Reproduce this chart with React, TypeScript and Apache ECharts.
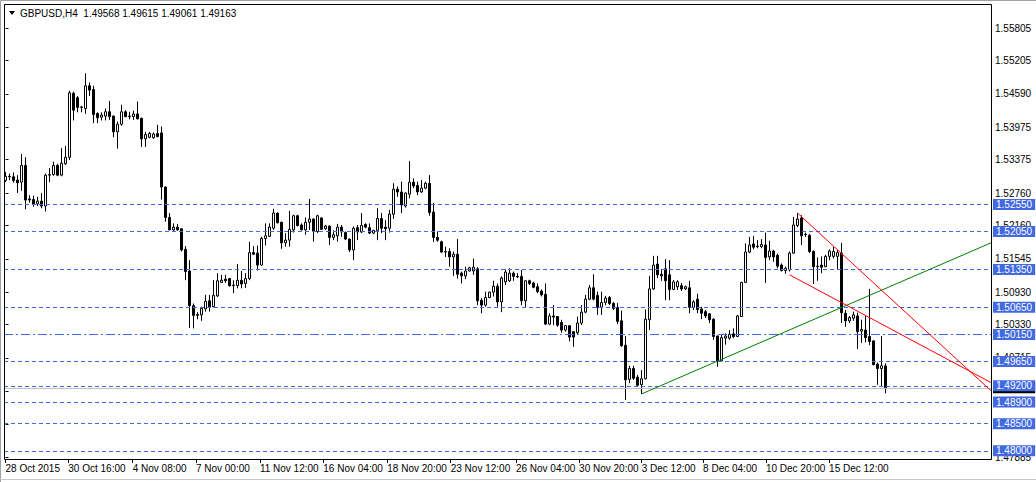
import React, { useEffect, useRef } from "react";
import * as echarts from "echarts";

const symbolName = "GBPUSD,H4";

// H4 bars, oldest first: [open, close, low, high]
const bars: number[][] = [
  [1.5299, 1.5307, 1.5296, 1.5315], [1.5307, 1.5306, 1.5300, 1.5312], [1.5306, 1.5299, 1.5295, 1.5314],
  [1.5300, 1.5295, 1.5276, 1.5309], [1.5296, 1.5327, 1.5280, 1.5348], [1.5327, 1.5263, 1.5246, 1.5342],
  [1.5265, 1.5263, 1.5258, 1.5272], [1.5264, 1.5256, 1.5251, 1.5271], [1.5256, 1.5261, 1.5252, 1.5269],
  [1.5261, 1.5252, 1.5248, 1.5276], [1.5252, 1.5309, 1.5242, 1.5312], [1.5309, 1.5310, 1.5296, 1.5322],
  [1.5310, 1.5327, 1.5308, 1.5334], [1.5327, 1.5309, 1.5307, 1.5330], [1.5309, 1.5331, 1.5307, 1.5359],
  [1.5330, 1.5342, 1.5328, 1.5363], [1.5342, 1.5461, 1.5337, 1.5465], [1.5460, 1.5429, 1.5410, 1.5463],
  [1.5452, 1.5434, 1.5425, 1.5455], [1.5434, 1.5435, 1.5425, 1.5437], [1.5432, 1.5474, 1.5422, 1.5497],
  [1.5474, 1.5466, 1.5455, 1.5480], [1.5467, 1.5421, 1.5405, 1.5474], [1.5423, 1.5415, 1.5405, 1.5425],
  [1.5416, 1.5420, 1.5410, 1.5425], [1.5418, 1.5426, 1.5410, 1.5432], [1.5426, 1.5417, 1.5411, 1.5446],
  [1.5418, 1.5389, 1.5379, 1.5419], [1.5389, 1.5403, 1.5358, 1.5408], [1.5403, 1.5426, 1.5400, 1.5439],
  [1.5426, 1.5417, 1.5416, 1.5429], [1.5417, 1.5418, 1.5412, 1.5426], [1.5417, 1.5422, 1.5411, 1.5428],
  [1.5422, 1.5413, 1.5412, 1.5445], [1.5414, 1.5376, 1.5361, 1.5415], [1.5376, 1.5384, 1.5361, 1.5389],
  [1.5379, 1.5386, 1.5377, 1.5389], [1.5378, 1.5385, 1.5376, 1.5388], [1.5386, 1.5380, 1.5379, 1.5402],
  [1.5387, 1.5287, 1.5264, 1.5399], [1.5287, 1.5231, 1.5223, 1.5288], [1.5231, 1.5208, 1.5207, 1.5239],
  [1.5208, 1.5213, 1.5206, 1.5220], [1.5213, 1.5208, 1.5206, 1.5219], [1.5210, 1.5171, 1.5168, 1.5211],
  [1.5172, 1.5131, 1.5115, 1.5178], [1.5132, 1.5068, 1.5027, 1.5152], [1.5068, 1.5050, 1.5026, 1.5072],
  [1.5050, 1.5052, 1.5043, 1.5056], [1.5051, 1.5063, 1.5040, 1.5066], [1.5062, 1.5076, 1.5057, 1.5088],
  [1.5077, 1.5066, 1.5057, 1.5088], [1.5066, 1.5087, 1.5065, 1.5115], [1.5086, 1.5114, 1.5084, 1.5128],
  [1.5111, 1.5115, 1.5110, 1.5125], [1.5117, 1.5114, 1.5110, 1.5125], [1.5118, 1.5105, 1.5103, 1.5119],
  [1.5105, 1.5106, 1.5091, 1.5115], [1.5105, 1.5115, 1.5100, 1.5145], [1.5115, 1.5108, 1.5100, 1.5132],
  [1.5109, 1.5118, 1.5101, 1.5128], [1.5118, 1.5166, 1.5115, 1.5186], [1.5166, 1.5163, 1.5162, 1.5178],
  [1.5165, 1.5143, 1.5133, 1.5179], [1.5143, 1.5192, 1.5142, 1.5195], [1.5192, 1.5197, 1.5179, 1.5220],
  [1.5196, 1.5213, 1.5195, 1.5220], [1.5211, 1.5239, 1.5208, 1.5247], [1.5239, 1.5221, 1.5220, 1.5240],
  [1.5222, 1.5184, 1.5173, 1.5223], [1.5184, 1.5189, 1.5177, 1.5202], [1.5189, 1.5209, 1.5177, 1.5243],
  [1.5208, 1.5234, 1.5203, 1.5236], [1.5234, 1.5216, 1.5214, 1.5236], [1.5217, 1.5208, 1.5207, 1.5220],
  [1.5208, 1.5222, 1.5199, 1.5231], [1.5222, 1.5228, 1.5208, 1.5265], [1.5228, 1.5205, 1.5186, 1.5229],
  [1.5205, 1.5234, 1.5202, 1.5236], [1.5230, 1.5209, 1.5208, 1.5231], [1.5210, 1.5215, 1.5208, 1.5217],
  [1.5215, 1.5194, 1.5180, 1.5216], [1.5194, 1.5199, 1.5189, 1.5207], [1.5197, 1.5213, 1.5186, 1.5219],
  [1.5213, 1.5204, 1.5195, 1.5217], [1.5203, 1.5191, 1.5189, 1.5205], [1.5191, 1.5171, 1.5167, 1.5192],
  [1.5171, 1.5211, 1.5152, 1.5214], [1.5212, 1.5204, 1.5189, 1.5217], [1.5204, 1.5216, 1.5202, 1.5239],
  [1.5218, 1.5213, 1.5211, 1.5220], [1.5212, 1.5202, 1.5200, 1.5220], [1.5202, 1.5207, 1.5200, 1.5208],
  [1.5207, 1.5229, 1.5189, 1.5248], [1.5229, 1.5211, 1.5202, 1.5239], [1.5213, 1.5210, 1.5189, 1.5226],
  [1.5211, 1.5237, 1.5203, 1.5245], [1.5237, 1.5283, 1.5228, 1.5294], [1.5283, 1.5278, 1.5269, 1.5288],
  [1.5278, 1.5254, 1.5239, 1.5297], [1.5252, 1.5276, 1.5249, 1.5277], [1.5274, 1.5296, 1.5266, 1.5335],
  [1.5296, 1.5289, 1.5285, 1.5303], [1.5290, 1.5278, 1.5272, 1.5297], [1.5278, 1.5285, 1.5276, 1.5300],
  [1.5285, 1.5294, 1.5283, 1.5297], [1.5294, 1.5240, 1.5234, 1.5309], [1.5241, 1.5194, 1.5186, 1.5258],
  [1.5194, 1.5189, 1.5186, 1.5205], [1.5186, 1.5167, 1.5165, 1.5188], [1.5167, 1.5168, 1.5158, 1.5177],
  [1.5168, 1.5158, 1.5140, 1.5174], [1.5158, 1.5163, 1.5123, 1.5168], [1.5163, 1.5126, 1.5118, 1.5191],
  [1.5128, 1.5123, 1.5109, 1.5131], [1.5123, 1.5132, 1.5117, 1.5140], [1.5132, 1.5138, 1.5131, 1.5140],
  [1.5132, 1.5139, 1.5125, 1.5155], [1.5136, 1.5077, 1.5069, 1.5139], [1.5078, 1.5069, 1.5054, 1.5082],
  [1.5069, 1.5083, 1.5066, 1.5094], [1.5083, 1.5093, 1.5082, 1.5094], [1.5093, 1.5104, 1.5085, 1.5114],
  [1.5104, 1.5075, 1.5066, 1.5109], [1.5075, 1.5119, 1.5056, 1.5122], [1.5112, 1.5130, 1.5106, 1.5135],
  [1.5114, 1.5128, 1.5112, 1.5137], [1.5128, 1.5122, 1.5114, 1.5131], [1.5122, 1.5121, 1.5119, 1.5128],
  [1.5122, 1.5077, 1.5069, 1.5134], [1.5077, 1.5114, 1.5065, 1.5115], [1.5114, 1.5109, 1.5106, 1.5116],
  [1.5110, 1.5102, 1.5100, 1.5112], [1.5103, 1.5094, 1.5091, 1.5109], [1.5095, 1.5088, 1.5085, 1.5098],
  [1.5089, 1.5034, 1.5032, 1.5109], [1.5034, 1.5049, 1.5032, 1.5054], [1.5049, 1.5047, 1.5032, 1.5069],
  [1.5048, 1.5032, 1.5029, 1.5049], [1.5037, 1.5023, 1.5018, 1.5042], [1.5023, 1.5031, 1.5020, 1.5032],
  [1.5031, 1.5010, 1.5002, 1.5032], [1.5020, 1.5010, 1.4992, 1.5021], [1.5018, 1.5036, 1.5014, 1.5048],
  [1.5036, 1.5056, 1.5032, 1.5069], [1.5056, 1.5080, 1.5054, 1.5088], [1.5080, 1.5101, 1.5078, 1.5106],
  [1.5101, 1.5080, 1.5078, 1.5126], [1.5087, 1.5065, 1.5051, 1.5094], [1.5065, 1.5074, 1.5051, 1.5094],
  [1.5074, 1.5082, 1.5069, 1.5086], [1.5083, 1.5072, 1.5069, 1.5086], [1.5072, 1.5063, 1.5060, 1.5075],
  [1.5065, 1.5039, 1.5034, 1.5073], [1.5040, 1.4994, 1.4992, 1.5059], [1.4995, 1.4931, 1.4894, 1.5012],
  [1.4932, 1.4952, 1.4925, 1.4957], [1.4952, 1.4934, 1.4931, 1.4957], [1.4936, 1.4921, 1.4920, 1.4940],
  [1.4922, 1.4933, 1.4905, 1.4949], [1.4933, 1.5043, 1.4932, 1.5061], [1.5042, 1.5099, 1.5023, 1.5123],
  [1.5099, 1.5143, 1.5097, 1.5160], [1.5145, 1.5125, 1.5119, 1.5160], [1.5126, 1.5123, 1.5114, 1.5135],
  [1.5136, 1.5114, 1.5078, 1.5154], [1.5125, 1.5098, 1.5078, 1.5152], [1.5098, 1.5112, 1.5097, 1.5115],
  [1.5103, 1.5112, 1.5097, 1.5115], [1.5105, 1.5099, 1.5095, 1.5110], [1.5099, 1.5103, 1.5097, 1.5105],
  [1.5101, 1.5065, 1.5054, 1.5114], [1.5065, 1.5075, 1.5060, 1.5078], [1.5080, 1.5061, 1.5054, 1.5090],
  [1.5062, 1.5054, 1.5043, 1.5066], [1.5057, 1.5049, 1.5045, 1.5060], [1.5053, 1.5042, 1.5036, 1.5054],
  [1.5043, 1.5011, 1.5005, 1.5045], [1.5012, 1.4965, 1.4955, 1.5013], [1.4966, 1.5009, 1.4964, 1.5014],
  [1.5008, 1.5012, 1.4996, 1.5017], [1.5008, 1.5015, 1.5005, 1.5023], [1.5016, 1.5011, 1.5008, 1.5026],
  [1.5011, 1.5049, 1.5010, 1.5051], [1.5048, 1.5111, 1.5047, 1.5112], [1.5111, 1.5167, 1.5110, 1.5183],
  [1.5167, 1.5180, 1.5165, 1.5195], [1.5182, 1.5176, 1.5172, 1.5197], [1.5177, 1.5178, 1.5174, 1.5189],
  [1.5177, 1.5181, 1.5174, 1.5191], [1.5180, 1.5157, 1.5110, 1.5203], [1.5158, 1.5169, 1.5152, 1.5188],
  [1.5169, 1.5158, 1.5149, 1.5171], [1.5161, 1.5141, 1.5137, 1.5164], [1.5143, 1.5133, 1.5131, 1.5146],
  [1.5133, 1.5137, 1.5127, 1.5140], [1.5134, 1.5165, 1.5131, 1.5168], [1.5165, 1.5217, 1.5164, 1.5232],
  [1.5216, 1.5228, 1.5213, 1.5239], [1.5230, 1.5197, 1.5180, 1.5235], [1.5199, 1.5200, 1.5195, 1.5203],
  [1.5198, 1.5168, 1.5165, 1.5200], [1.5168, 1.5140, 1.5108, 1.5170], [1.5140, 1.5141, 1.5114, 1.5157],
  [1.5143, 1.5139, 1.5128, 1.5159], [1.5140, 1.5159, 1.5139, 1.5162], [1.5159, 1.5169, 1.5152, 1.5172],
  [1.5159, 1.5168, 1.5155, 1.5177], [1.5159, 1.5166, 1.5134, 1.5171], [1.5165, 1.5055, 1.5036, 1.5184],
  [1.5054, 1.5040, 1.5029, 1.5060], [1.5040, 1.5046, 1.5036, 1.5049], [1.5045, 1.5051, 1.5040, 1.5057],
  [1.5049, 1.5020, 1.4988, 1.5055], [1.5021, 1.5024, 1.4999, 1.5042], [1.5023, 1.5009, 1.5000, 1.5049],
  [1.5011, 1.5002, 1.4995, 1.5099], [1.5003, 1.4959, 1.4958, 1.5004], [1.4960, 1.4952, 1.4922, 1.4963],
  [1.4952, 1.4957, 1.4919, 1.5012], [1.49568, 1.49163, 1.49061, 1.49615],
];

// time-axis labels and the bar positions they sit at
const timeLabels = [
  "28 Oct 2015", "30 Oct 16:00", "4 Nov 08:00", "7 Nov 00:00", "11 Nov 12:00", "16 Nov 04:00",
  "18 Nov 20:00", "23 Nov 12:00", "26 Nov 04:00", "30 Nov 20:00", "3 Dec 12:00", "8 Dec 04:00",
  "10 Dec 20:00", "15 Dec 12:00",
];
const timeLabelBars = [0, 15.7, 31.8, 47.6, 63.6, 79.45, 95.45, 111.3, 127.6, 143.4, 159.05, 174.4, 190.1, 205.9];

// price-axis ticks, and the tick labels that are not hidden behind level labels
const priceTicks = [
  1.55805, 1.55205, 1.5459, 1.53975, 1.53375, 1.5276, 1.5216, 1.51545, 1.5093, 1.5033,
  1.49715, 1.491, 1.48485, 1.47885,
];
const priceTickLabels = [
  1.55805, 1.55205, 1.5459, 1.53975, 1.53375, 1.5276, 1.5216, 1.51545, 1.5093, 1.5033,
  1.49715, 1.47885,
];

// horizontal lines
const dashedLevels = [1.5255, 1.5205, 1.5135, 1.5065, 1.4965, 1.492, 1.489, 1.485, 1.48];
const dashDotLevel = 1.5015;
const bidPrice = 1.49163;

// trend lines: [bar, price] anchor pairs
const greenTrend = [[159, 1.4905], [246.375, 1.5184]];
const redTrendA = [[198, 1.5239], [246.375, 1.4911]];
const redTrendB = [[196, 1.5125], [246.375, 1.4926]];

const FONT = "'Liberation Sans', Arial, sans-serif";
const BLUE = "#4169e1";

export default function App() {
  const ref = useRef<HTMLDivElement>(null);

  useEffect(() => {
    document.body.style.margin = "0";
    const chart = echarts.init(ref.current!, null, { renderer: "svg" });
    const last = bars[bars.length - 1];
    const title = `${symbolName}  ${last[0].toFixed(5)} ${last[3].toFixed(5)} ${last[2].toFixed(5)} ${last[1].toFixed(5)}`;

    const levelLabel = (v: number, bg: string) => ({
      show: true,
      position: "end",
      distance: 2,
      formatter: () => v.toFixed(5),
      backgroundColor: bg,
      color: "#ffffff",
      fontSize: 10,
      fontFamily: FONT,
      lineHeight: 11,
      padding: [0, 3, 0, 3],
    });

    const option: any = {
      animation: false,
      backgroundColor: "#ffffff",
      grid: { left: 4, top: 4, width: 987, height: 455, containLabel: false },
      xAxis: {
        type: "value",
        min: -0.375,
        max: 246.375,
        axisLine: { show: false },
        splitLine: { show: false },
        axisTick: {
          show: true,
          customValues: timeLabelBars,
          length: 4,
          lineStyle: { color: "#000000", width: 1 },
        },
        axisLabel: {
          show: true,
          customValues: timeLabelBars,
          formatter: (v: number) => {
            const k = timeLabelBars.findIndex((b) => Math.abs(b - v) < 1e-6);
            return k >= 0 ? timeLabels[k] : "";
          },
          align: "left",
          margin: 4,
          color: "#000000",
          fontSize: 10,
          fontFamily: FONT,
        },
      },
      yAxis: {
        type: "value",
        position: "right",
        min: 1.47849,
        max: 1.5625,
        scale: true,
        axisLine: { show: false },
        splitLine: { show: false },
        axisTick: {
          show: true,
          customValues: priceTicks,
          length: 3,
          lineStyle: { color: "#000000", width: 1 },
        },
        axisLabel: {
          show: true,
          customValues: priceTickLabels,
          formatter: (v: number) => v.toFixed(5),
          margin: 4,
          color: "#000000",
          fontSize: 10,
          fontFamily: FONT,
        },
      },
      series: [
        {
          type: "candlestick",
          z: 2,
          barWidth: 2,
          data: bars.map((b, i) => [i, b[0], b[1], b[2], b[3]]),
          encode: { x: 0, y: [1, 2, 3, 4] },
          itemStyle: {
            color: "#ffffff",
            color0: "#000000",
            borderColor: "#000000",
            borderColor0: "#000000",
            borderColorDoji: "#000000",
            borderWidth: 1,
          },
        },
        {
          type: "line",
          z: 3,
          data: [],
          silent: true,
          markLine: {
            silent: true,
            symbol: ["none", "none"],
            precision: 5,
            data: [
              {
                yAxis: bidPrice,
                lineStyle: { color: "#c0c0c0", width: 1, type: "solid" },
                label: levelLabel(bidPrice, "#000000"),
              },
            ],
          },
        },
        {
          type: "line",
          z: 4,
          data: [],
          silent: true,
          markLine: {
            silent: true,
            symbol: ["none", "none"],
            precision: 5,
            data: [
              ...dashedLevels.map((v) => ({
                yAxis: v,
                lineStyle: { color: BLUE, width: 1, type: [4, 3] },
                label: levelLabel(v, BLUE),
              })),
              {
                yAxis: dashDotLevel,
                lineStyle: { color: BLUE, width: 1, type: [9, 3, 2, 3] },
                label: levelLabel(dashDotLevel, BLUE),
              },
            ],
          },
        },
        {
          type: "line",
          z: 5,
          data: greenTrend,
          showSymbol: false,
          silent: true,
          lineStyle: { color: "#008000", width: 1 },
        },
        {
          type: "line",
          z: 5,
          data: redTrendA,
          showSymbol: false,
          silent: true,
          lineStyle: { color: "#ff0000", width: 1 },
        },
        {
          type: "line",
          z: 5,
          data: redTrendB,
          showSymbol: false,
          silent: true,
          lineStyle: { color: "#ff0000", width: 1 },
        },
      ],
      graphic: [
        {
          type: "rect",
          silent: true,
          z: 10,
          shape: { x: 4.5, y: 4.5, width: 987, height: 455 },
          style: { fill: "none", stroke: "#000000", lineWidth: 1 },
        },
        {
          type: "polyline",
          silent: true,
          shape: { points: [[0.5, 482], [0.5, 0.5], [1036, 0.5]] },
          style: { fill: "none", stroke: "#a0a0a0", lineWidth: 1 },
        },
        {
          type: "line",
          silent: true,
          shape: { x1: 0, y1: 479.5, x2: 1036, y2: 479.5 },
          style: { stroke: "#c8c8c8", lineWidth: 1 },
        },
        {
          type: "polygon",
          silent: true,
          shape: { points: [[9, 11], [15, 11], [12, 15]] },
          style: { fill: "#000000" },
        },
        {
          type: "text",
          silent: true,
          x: 20,
          y: 13,
          style: {
            text: title,
            fill: "#000000",
            fontSize: 10,
            fontFamily: FONT,
            textVerticalAlign: "middle",
            verticalAlign: "middle",
          },
        },
      ],
    };

    chart.setOption(option);
    return () => chart.dispose();
  }, []);

  return <div ref={ref} style={{ width: 1036, height: 482, background: "#ffffff" }} />;
}
